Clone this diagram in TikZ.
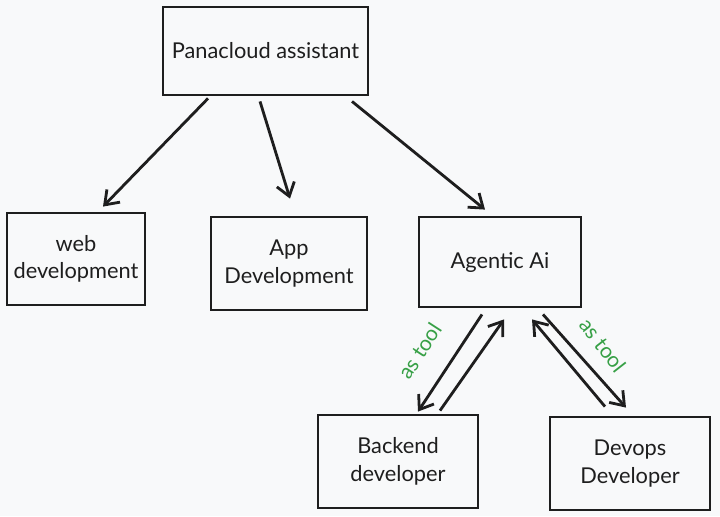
\documentclass[tikz,border=0pt]{standalone}
\usepackage{fontspec}
\setmainfont{Lato}
\usetikzlibrary{arrows.meta,calc}
\definecolor{toolgreen}{RGB}{55,160,70}
\definecolor{paper}{RGB}{248,249,250}
\definecolor{ink}{RGB}{30,30,30}
\tikzset{
  box/.style={draw=ink, text=ink, line width=2pt, align=center, inner sep=0pt,
    font=\fontsize{15.5}{19.5}\selectfont},
  link/.style={draw=ink, line width=2pt, -{Straight Barb[length=9pt,width=13pt,line width=2pt]}},
  tool/.style={text=toolgreen, inner sep=1pt, font=\fontsize{15}{18}\selectfont}
}
\begin{document}
\begin{tikzpicture}[x=0.025cm, y=-0.025cm]

\fill[paper] (0, 0) rectangle (720, 516);
\useasboundingbox (0, 0) rectangle (720, 516);

\node[box, minimum width=5.125cm, minimum height=2.2cm] (pana) at (265.5, 51) {Panacloud assistant};
\node[box, minimum width=3.45cm, minimum height=2.3cm] (web) at (76, 259) {web\\development};
\node[box, minimum width=3.9cm, minimum height=2.325cm] (app) at (289, 263.5) {App\\Development};
\node[box, minimum width=4.05cm, minimum height=2.25cm] (agent) at (500, 262) {Agentic Ai};
\node[box, minimum width=4cm, minimum height=2.325cm] (back) at (398, 461.5) {Backend\\developer};
\node[box, minimum width=4cm, minimum height=2.325cm] (devops) at (630, 463.5) {Devops\\Developer};

\draw[link] ($(pana.south)+(-57.5, 2)$) -- ($(web.north)+(27, -5)$);
\draw[link] ($(pana.south)+(-5.5, 5)$) -- ($(app.north)+(1, -17)$);
\draw[link] ($(pana.south)+(86.5, 5)$) -- ($(agent.north)+(-15, -6)$);

\draw[link] ($(agent.south)+(-18, 6)$) -- ($(back.north)+(20, -2)$);
\draw[link] ($(back.north)+(42, -3)$) -- ($(agent.south)+(4, 11)$);
\draw[link] ($(devops.north)+(-25, -9)$) -- ($(agent.south)+(32, 11)$);
\draw[link] ($(agent.south)+(43, 6)$) -- ($(devops.north)+(-4, -8)$);

\node[tool, rotate=57] (tool1) at (420, 351) {as tool};
\node[tool, rotate=-52] (tool2) at (603, 345) {as tool};

\end{tikzpicture}
\end{document}
